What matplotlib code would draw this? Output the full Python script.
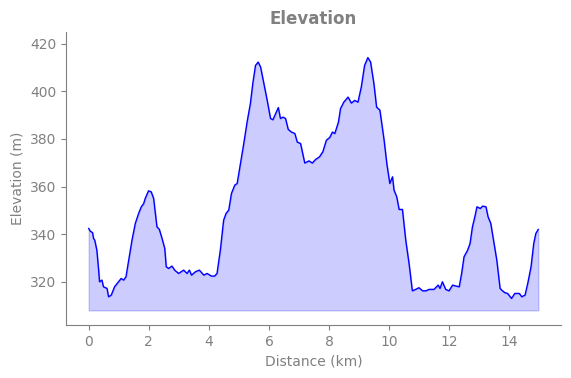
import matplotlib
matplotlib.use("Agg")
import matplotlib.pyplot as plt

# distance (km) and elevation (m)
distance_km = [
    0.00, 0.05, 0.13, 0.16, 0.20, 0.27, 0.33, 0.36, 0.44, 0.49, 0.61, 0.66, 0.75, 0.86, 0.99,
    1.08, 1.16, 1.24, 1.33, 1.44, 1.55, 1.66, 1.75, 1.83, 1.88, 1.99, 2.08, 2.16, 2.22, 2.27,
    2.35, 2.44, 2.53, 2.58, 2.66, 2.77, 2.86, 2.99, 3.16, 3.27, 3.35, 3.42, 3.55, 3.68, 3.83,
    3.94, 4.08, 4.19, 4.27, 4.38, 4.49, 4.57, 4.66, 4.75, 4.86, 4.94, 5.05, 5.16, 5.27, 5.38,
    5.46, 5.55, 5.64, 5.72, 5.83, 5.94, 6.05, 6.13, 6.22, 6.31, 6.38, 6.47, 6.55, 6.64, 6.75,
    6.86, 6.94, 7.05, 7.19, 7.33, 7.44, 7.55, 7.68, 7.79, 7.91, 8.02, 8.11, 8.19, 8.31, 8.38,
    8.49, 8.63, 8.74, 8.85, 8.96, 9.07, 9.18, 9.29, 9.38, 9.49, 9.58, 9.69, 9.77, 9.83, 9.92,
    10.02, 10.11, 10.16, 10.25, 10.33, 10.44, 10.55, 10.66, 10.77, 10.88, 10.99, 11.11, 11.22,
    11.33, 11.49, 11.63, 11.69, 11.77, 11.88, 11.99, 12.11, 12.22, 12.33, 12.41, 12.49, 12.61,
    12.69, 12.77, 12.85, 12.92, 13.03, 13.11, 13.22, 13.29, 13.38, 13.47, 13.58, 13.69, 13.77,
    13.85, 13.94, 14.07, 14.18, 14.33, 14.41, 14.52, 14.61, 14.72, 14.81, 14.88, 14.96,
]
elevation_m = [
    342.4, 341.3, 340.6, 338.2, 337.5, 333.3, 324.9, 320.0, 320.7, 317.9, 317.2, 313.7, 314.4, 317.9, 320.0,
    321.4, 320.7, 322.1, 329.1, 337.5, 344.5, 348.7, 351.5, 352.9, 355.0, 358.2, 357.8, 355.0, 348.7, 343.1,
    342.0, 338.2, 334.0, 326.3, 325.6, 326.6, 324.9, 323.5, 324.9, 323.5, 324.9, 322.8, 324.2, 324.9, 322.8,
    323.5, 322.4, 322.4, 323.5, 333.3, 345.9, 348.7, 350.1, 357.1, 360.6, 361.3, 369.7, 378.1, 387.1, 394.9,
    403.3, 410.9, 412.3, 410.2, 403.3, 396.2, 388.6, 388.1, 390.7, 393.2, 388.6, 389.2, 388.6, 384.0, 382.9,
    382.3, 378.7, 378.1, 369.9, 370.8, 369.9, 371.4, 372.5, 374.6, 379.5, 380.6, 382.9, 382.3, 387.1, 392.8,
    395.5, 397.6, 395.1, 396.2, 395.5, 401.8, 410.9, 414.2, 412.3, 403.3, 393.4, 392.1, 385.0, 379.5, 369.7,
    361.3, 364.1, 358.5, 355.7, 350.4, 350.4, 337.5, 327.7, 316.2, 316.8, 317.5, 316.2, 316.2,
    316.8, 316.8, 318.6, 317.2, 320.0, 316.8, 316.2, 318.6, 318.2, 317.9, 323.5, 330.5, 333.3,
    336.1, 343.1, 347.3, 351.5, 350.8, 351.8, 351.5, 347.3, 344.5, 337.5, 329.1, 317.2, 316.2,
    315.4, 315.1, 313.0, 315.1, 315.1, 313.7, 314.4, 319.3, 326.3, 336.1, 340.3, 342.0,
]

grey = "#808080"
base = min(elevation_m) - 5

fig, ax = plt.subplots(figsize=(5.71, 3.78), dpi=100)
ax.plot(distance_km, elevation_m, color="blue", linewidth=1)
ax.fill_between(distance_km, elevation_m, base, color="blue", alpha=0.2)

ax.set_ylim(301.8, 424.9)
ax.set_title("Elevation", color=grey, fontweight="bold", fontsize=12)
ax.set_xlabel("Distance (km)", color=grey)
ax.set_ylabel("Elevation (m)", color=grey)

for side in ["top", "right"]:
    ax.spines[side].set_visible(False)
for side in ["left", "bottom"]:
    ax.spines[side].set_color(grey)
ax.tick_params(colors=grey)

fig.subplots_adjust(left=0.116, right=0.982, bottom=0.14, top=0.915)
fig.savefig("out.png")
